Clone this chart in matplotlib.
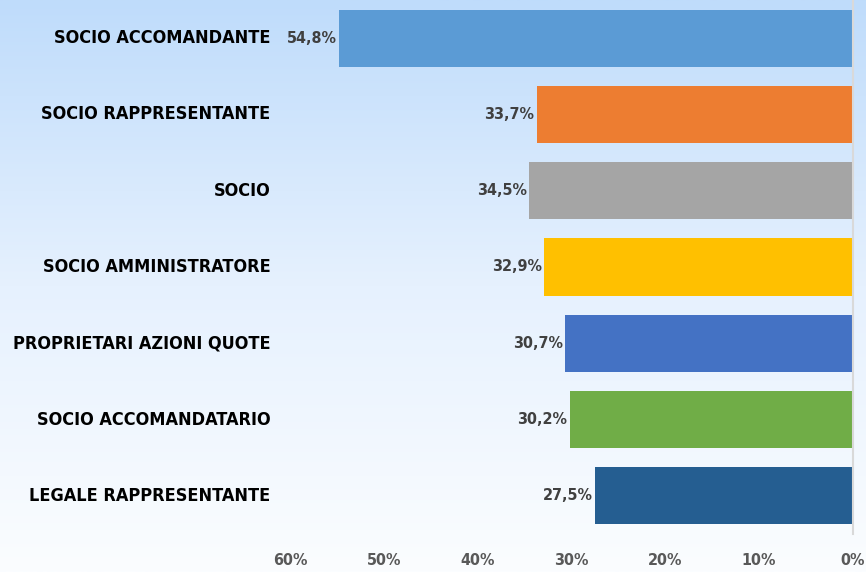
import numpy as np
import matplotlib.pyplot as plt
from matplotlib.colors import LinearSegmentedColormap
from matplotlib import font_manager

# Data
categories = ["SOCIO ACCOMANDANTE", "SOCIO RAPPRESENTANTE", "SOCIO",
              "SOCIO AMMINISTRATORE", "PROPRIETARI AZIONI QUOTE",
              "SOCIO ACCOMANDATARIO", "LEGALE RAPPRESENTANTE"]
values = [54.8, 33.7, 34.5, 32.9, 30.7, 30.2, 27.5]
colors = ["#5B9BD5", "#ED7D31", "#A5A5A5", "#FFC000",
          "#4472C4", "#70AD47", "#255E91"]
ticks = [0, 10, 20, 30, 40, 50, 60]

# condensed bold face if present (closest to Arial Narrow)
cond = [f.fname for f in font_manager.fontManager.ttflist
        if 'DejaVu Sans' in f.name and 'ondensed' in f.fname and 'Bold' in f.fname
        and 'Oblique' not in f.fname]
if cond:
    fp = font_manager.FontProperties(fname=cond[0])
else:
    fp = font_manager.FontProperties(family='Liberation Sans', weight='bold')

W, H = 866, 572
fig = plt.figure(figsize=(W / 100, H / 100), dpi=100)

# background gradient (light blue on top fading to white)
bg = fig.add_axes([0, 0, 1, 1], zorder=-1)
grad = np.linspace(0, 1, 256).reshape(-1, 1)
cmap = LinearSegmentedColormap.from_list("bg", ["#BFDCFB", "#E6F1FE", "#FBFDFF"])
bg.imshow(grad, aspect='auto', cmap=cmap, extent=[0, 1, 0, 1], origin='upper')
bg.axis('off')

ax = fig.add_axes([290 / W, (H - 534) / H, (853 - 290) / W, 534 / H])
ax.patch.set_alpha(0)

y = np.arange(len(categories))
ax.barh(y, values, height=0.75, color=colors)

ax.set_xlim(60, 0)
ax.set_ylim(len(categories) - 0.5, -0.5)

for yi, v in zip(y, values):
    ax.text(v + 0.25, yi, f"{v:.1f}%".replace(".", ","), ha='right',
            va='center', fontproperties=fp, fontsize=11.5, color='#404040')

ax.set_yticks(y)
ax.set_yticklabels(categories, fontproperties=fp, fontsize=13, color='black',
                   va='center')
ax.tick_params(axis='y', length=0, pad=14)

ax.set_xticks(ticks)
ax.set_xticklabels([f"{t}%" for t in ticks], fontproperties=fp, fontsize=11.5,
                   color='#595959')
ax.tick_params(axis='x', length=0, pad=14)

for s in ['top', 'left', 'bottom']:
    ax.spines[s].set_visible(False)
ax.spines['right'].set_color('#D9D9D9')
ax.spines['right'].set_linewidth(1.5)

fig.savefig("out.png", dpi=100)
